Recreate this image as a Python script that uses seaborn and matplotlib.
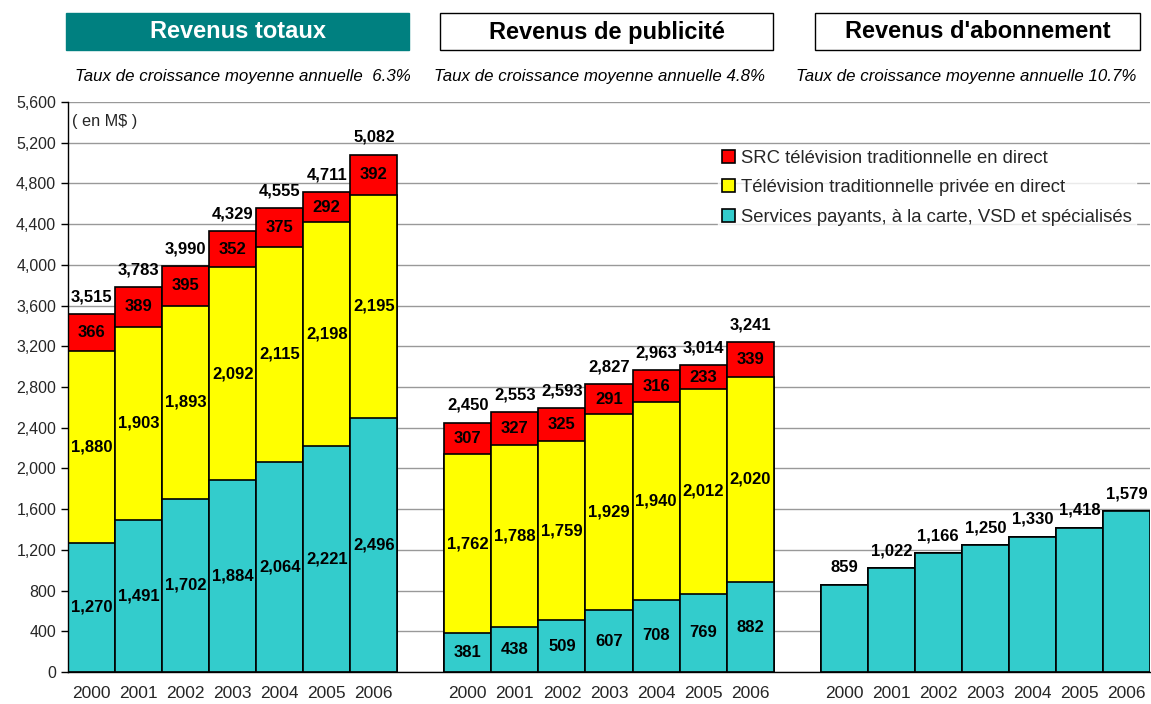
import numpy as np
import pandas as pd
import matplotlib
matplotlib.use("Agg")
import matplotlib.pyplot as plt
from matplotlib.patches import Rectangle, Patch
from matplotlib.ticker import FuncFormatter, MultipleLocator
import seaborn as sns

sns.set_theme(style="white")
plt.rcParams['font.family'] = ['Liberation Sans', 'DejaVu Sans']

years = ["2000", "2001", "2002", "2003", "2004", "2005", "2006"]

# Revenus totaux
tot_specialty = [1270, 1491, 1702, 1884, 2064, 2221, 2496]
tot_private = [1880, 1903, 1893, 2092, 2115, 2198, 2195]
tot_cbc = [366, 389, 395, 352, 375, 292, 392]
tot_sum = [3515, 3783, 3990, 4329, 4555, 4711, 5082]

# Revenus de publicite
pub_specialty = [381, 438, 509, 607, 708, 769, 882]
pub_private = [1762, 1788, 1759, 1929, 1940, 2012, 2020]
pub_cbc = [307, 327, 325, 291, 316, 233, 339]
pub_sum = [2450, 2553, 2593, 2827, 2963, 3014, 3241]

# Revenus d'abonnement
sub_specialty = [859, 1022, 1166, 1250, 1330, 1418, 1579]

panel_titles = ["Revenus totaux", "Revenus de publicité", "Revenus d'abonnement"]
growth = ["Taux de croissance moyenne annuelle  6.3%",
          "Taux de croissance moyenne annuelle 4.8%",
          "Taux de croissance moyenne annuelle 10.7%"]
series_names = ["SRC télévision traditionnelle en direct",
                "Télévision traditionnelle privée en direct",
                "Services payants, à la carte, VSD et spécialisés"]

RED = "#ff0000"
YELLOW = "#ffff00"
TEAL = "#33cccc"

# one slot per bar, an empty slot between panels
pos_tot = np.arange(0, 7)
pos_pub = np.arange(8, 15)
pos_sub = np.arange(16, 23)

df = pd.DataFrame({
    "pos": np.concatenate([pos_tot, pos_pub, pos_sub]),
    "year": years * 3,
    "specialty": tot_specialty + pub_specialty + sub_specialty,
    "private": tot_private + pub_private + [0] * 7,
    "cbc": tot_cbc + pub_cbc + [0] * 7,
})
df["lvl2"] = df["specialty"] + df["private"]
df["lvl3"] = df["lvl2"] + df["cbc"]
df["total"] = tot_sum + pub_sum + sub_specialty

fig = plt.figure(figsize=(11.51, 7.04), dpi=100)
ax = fig.add_axes([68 / 1151, 1 - 672 / 704, 1082 / 1151, 570 / 704])

for col, color in [("lvl3", RED), ("lvl2", YELLOW), ("specialty", TEAL)]:
    sub = df[df[col] > 0] if col != "specialty" else df
    sns.barplot(data=sub, x="pos", y=col, native_scale=True, width=1.0,
                color=color, edgecolor="black", linewidth=1.2,
                saturation=1, ax=ax, zorder=2, errorbar=None)

# segment labels
lab_kw = dict(ha="center", va="center", fontsize=12, fontweight="bold", color="black", zorder=5)
for _, r in df.iterrows():
    if r["private"] > 0:
        ax.text(r["pos"], r["specialty"] / 2, f"{r['specialty']:,}", **lab_kw)
        ax.text(r["pos"], r["specialty"] + r["private"] / 2, f"{r['private']:,}", **lab_kw)
        ax.text(r["pos"], r["lvl2"] + r["cbc"] / 2, f"{r['cbc']:,}", **lab_kw)
    ax.text(r["pos"], r["lvl3"] + 95, f"{r['total']:,}", ha="center", va="bottom",
            fontsize=12, fontweight="bold", color="black", zorder=5)

ax.set_xlim(-0.5, 22.5)
ax.set_ylim(0, 5600)
ax.yaxis.set_major_locator(MultipleLocator(400))
ax.yaxis.set_major_formatter(FuncFormatter(lambda v, p: f"{int(v):,}"))
ax.grid(axis="y", color="#999999", linewidth=1, zorder=0)
ax.set_axisbelow(True)
ax.set_xticks(df["pos"])
ax.set_xticklabels(df["year"])
ax.set_xticks(np.arange(-0.5, 23, 1), minor=True)
ax.tick_params(axis="x", which="major", length=0, pad=10, labelsize=12.5)
ax.tick_params(axis="x", which="minor", length=5, width=1, color="black", direction="out")
ax.tick_params(axis="y", length=5, width=1, color="black", direction="out", labelsize=11.5, left=True)
ax.set_xlabel("")
ax.set_ylabel("")
for s in ["top", "right"]:
    ax.spines[s].set_visible(False)
for s in ["left", "bottom"]:
    ax.spines[s].set_color("black")
    ax.spines[s].set_linewidth(1)

ax.text(0.004, 0.965, "( en M$ )", transform=ax.transAxes, fontsize=11.7, va="center", ha="left")

handles = [Patch(facecolor=c, edgecolor="black", linewidth=1.2) for c in [RED, YELLOW, TEAL]]
leg = ax.legend(handles, series_names, loc="upper left", bbox_to_anchor=(0.6006, 0.9246),
                frameon=True, fontsize=13.3, handlelength=0.7, handleheight=0.7,
                handletextpad=0.3, labelspacing=0.69, borderpad=0.25, borderaxespad=0)
leg.get_frame().set_facecolor("white")
leg.get_frame().set_edgecolor("white")

# panel title boxes and growth rates
boxes = [(66, 409), (440, 773), (815, 1140)]
growth_x = [75, 434, 796]
for i, ((x0, x1), title) in enumerate(zip(boxes, panel_titles)):
    y0, y1 = 13, 50
    fc = "#008080" if i == 0 else "white"
    tc = "white" if i == 0 else "black"
    fig.patches.append(Rectangle((x0 / 1151, 1 - y1 / 704), (x1 - x0) / 1151, (y1 - y0) / 704,
                                 transform=fig.transFigure, facecolor=fc, edgecolor="black" if i else fc,
                                 linewidth=1))
    fig.text((x0 + x1) / 2 / 1151, 1 - 32 / 704, title, ha="center", va="center",
             fontsize=17, fontweight="bold", color=tc)
    fig.text(growth_x[i] / 1151, 1 - 76 / 704, growth[i], ha="left", va="center",
             fontsize=12.2, style="italic", color="black")

fig.savefig("out.png", dpi=100)
